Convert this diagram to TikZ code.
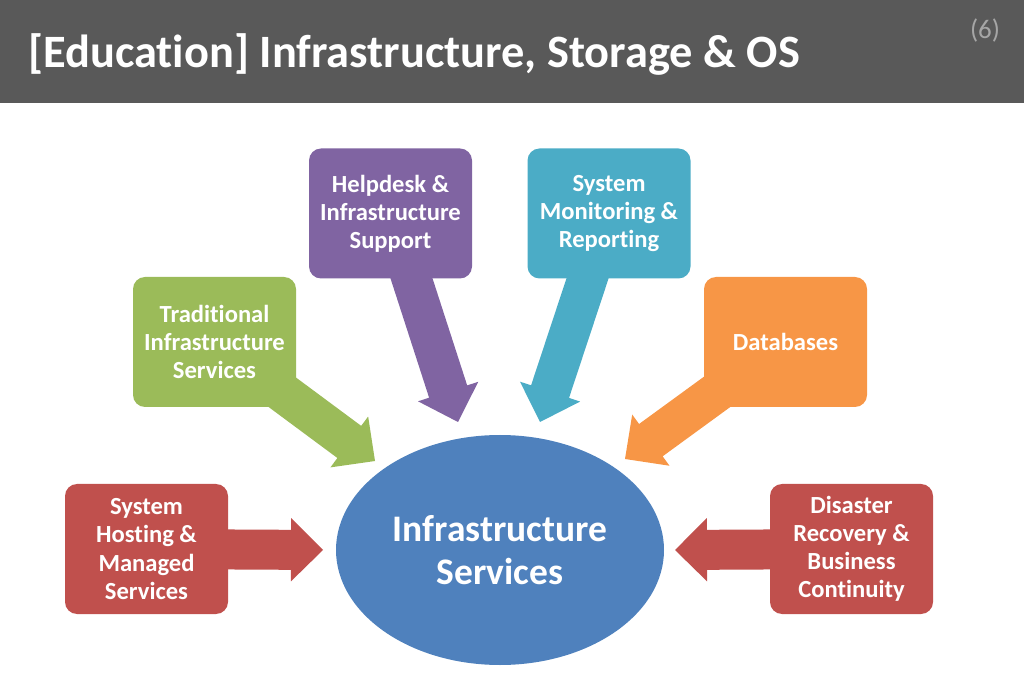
\documentclass[tikz,border=0pt]{standalone}
\usepackage{fontspec}
\setmainfont[Ligatures=NoCommon]{Carlito}
\usetikzlibrary{calc, shapes.geometric, backgrounds}

\definecolor{headgray}{HTML}{595959}
\definecolor{pagegray}{HTML}{A6A6A6}
\definecolor{infoblue}{HTML}{4F81BD}
\definecolor{infogreen}{HTML}{9BBB59}
\definecolor{infopurple}{HTML}{8064A2}
\definecolor{infoteal}{HTML}{4BACC6}
\definecolor{infoorange}{HTML}{F79646}
\definecolor{infored}{HTML}{C0504D}

% fat arrow from a box centre to a tip point
\newcommand{\pointer}[3]{%
    \path (#1.center) coordinate (s) ($(#2)!9.6mm!(#1.center)$) coordinate (b);
    \fill[#3] ($(s)!6mm!90:(#2)$) -- ($(b)!6mm!90:(#2)$) -- ($(b)!9.5mm!90:(#2)$)
        -- (#2) -- ($(b)!9.5mm!-90:(#2)$) -- ($(b)!6mm!-90:(#2)$) -- ($(s)!6mm!-90:(#2)$) -- cycle;
}

\begin{document}
\begin{tikzpicture}[x=0.3mm, y=-0.3mm,
        infobox/.style={rounded corners=3.6mm, minimum width=48.9mm, minimum height=39mm,
            inner sep=0pt, align=center, text=white, font=\bfseries\fontsize{21pt}{24pt}\selectfont}]
        \useasboundingbox (0,0) rectangle (1024,682);
        \fill[headgray] (0,0) rectangle (1024,103);
        \node[anchor=base west, text=white, inner sep=0pt, font=\bfseries\fontsize{39.6pt}{44pt}\selectfont]
            (title) at (28,68) {[Education] Infrastructure, Storage \& OS};
        \node[text=pagegray, inner sep=0pt, font=\fontsize{23pt}{25pt}\selectfont] (page) at (985,31) {(6)};

        \coordinate (tipTrad) at (375,461);
        \coordinate (tipHelp) at (458,422);
        \coordinate (tipMon) at (540,422);
        \coordinate (tipDb) at (625,459);
        \coordinate (tipHost) at (323,550);
        \coordinate (tipDr) at (675,550);

        \node[infobox, fill=infogreen] (trad) at (214.5,342) {Traditional\\Infrastructure\\Services};
        \node[infobox, fill=infopurple] (help) at (390.5,213.5) {Helpdesk \&\\Infrastructure\\Support};
        \node[infobox, fill=infoteal] (mon) at (609,213.5) {System\\Monitoring \&\\Reporting};
        \node[infobox, fill=infoorange] (db) at (785.5,342) {Databases};
        \node[infobox, fill=infored] (host) at (146.5,549) {System\\Hosting \&\\Managed\\Services};
        \node[infobox, fill=infored] (dr) at (851.5,549) {Disaster\\Recovery \&\\Business\\Continuity};

        \begin{scope}[on background layer]
            \pointer{trad}{tipTrad}{infogreen}
            \pointer{help}{tipHelp}{infopurple}
            \pointer{mon}{tipMon}{infoteal}
            \pointer{db}{tipDb}{infoorange}
            \pointer{host}{tipHost}{infored}
            \pointer{dr}{tipDr}{infored}
        \end{scope}

        \node[ellipse, fill=infoblue, minimum width=98.4mm, minimum height=69mm, inner sep=0pt,
            align=center, text=white, font=\bfseries\fontsize{32pt}{36.7pt}\selectfont]
            (core) at (500,550) {Infrastructure\\Services};
    \end{tikzpicture}
\end{document}
